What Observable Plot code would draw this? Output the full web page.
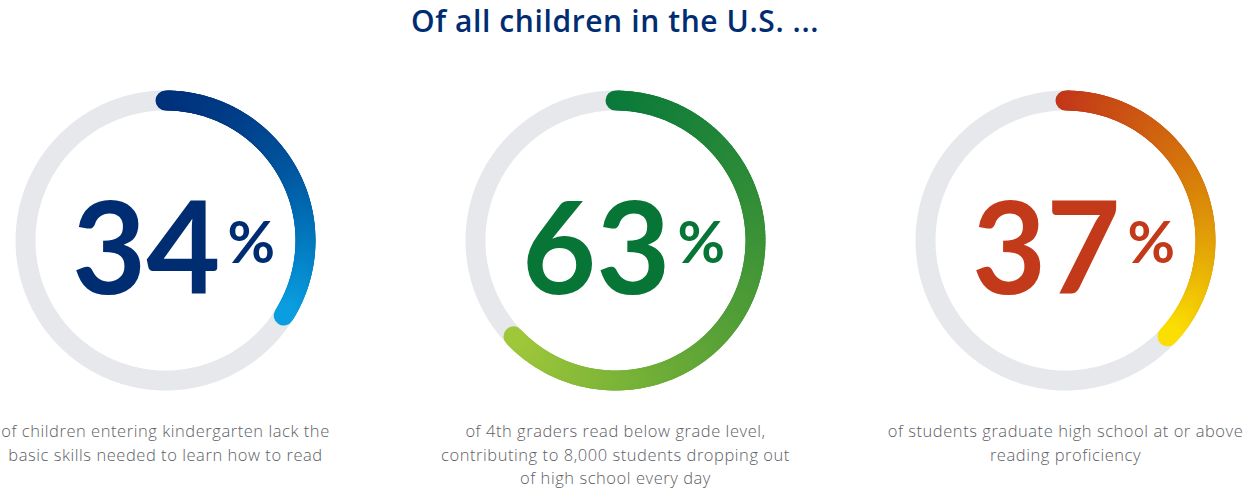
<!DOCTYPE html>
<html>
<head>
<meta charset="utf-8">
<script src="https://cdn.jsdelivr.net/npm/d3@7"></script>
<script src="https://cdn.jsdelivr.net/npm/@observablehq/plot@0.6"></script>
<style>
  html, body { margin: 0; padding: 0; background: #fff; }
  #title { box-sizing: border-box; height: 48px; line-height: 41px; font-family: "Open Sans", sans-serif; font-weight: 600; font-size: 30px; letter-spacing: 0.6px; color: #002d72; text-align: center; padding-right: 14px; white-space: nowrap; overflow: visible; }
  #chart svg { display: block; }
</style>
</head>
<body>
<div id="title"></div>
<div id="chart"></div>
<script>
const title = "Of all children in the U.S. ...";
const categories = ["kindergarten", "fourthGrade", "highSchool"];
const values = [34, 63, 37];
const captions = [
  "of children entering kindergarten lack the\nbasic skills needed to learn how to read",
  "of 4th graders read below grade level,\ncontributing to 8,000 students dropping out\nof high school every day",
  "of students graduate high school at or above\nreading proficiency"
];
const numberColors = ["#002d72", "#077536", "#c23a19"];
const arcColorStops = [
  ["#00307a", "#003f8a", "#0068b0", "#0a9fe0"],
  ["#08793a", "#2f8c37", "#62a636", "#9fc73a"],
  ["#c2361a", "#d0620f", "#dd9608", "#fbdf02"]
];
const trackColor = "#e6e8ec";

document.getElementById("title").textContent = title;

const R = 140, W = 20;

// full track rings
const track = [];
categories.forEach(cat => {
  for (let k = 0; k < 360; k += 2) {
    const a = k * Math.PI / 180;
    track.push({cat, x: R * Math.sin(a), y: -R * Math.cos(a)});
  }
});

// progress arcs as short gradient segments
const segs = [];
categories.forEach((cat, i) => {
  const interp = d3.interpolateRgbBasis(arcColorStops[i]);
  const total = values[i] / 100 * 2 * Math.PI;
  const N = 160;
  for (let s = 0; s < N; s++) {
    const a1 = total * s / N, a2 = total * (s + 1) / N;
    segs.push({
      cat,
      x1: R * Math.sin(a1), y1: -R * Math.cos(a1),
      x2: R * Math.sin(a2), y2: -R * Math.cos(a2),
      color: interp((s + 0.5) / N)
    });
  }
});

const rows = categories.map((cat, i) => ({cat, value: values[i], caption: captions[i], color: numberColors[i]}));

const capSize = 16.5;
const chart = Plot.plot({
  width: 1244,
  height: 440,
  marginLeft: 0,
  marginRight: 14,
  marginTop: 0,
  marginBottom: 0,
  fx: {domain: categories, paddingInner: 0.2667, paddingOuter: 0, axis: null},
  x: {domain: [-165, 165], axis: null},
  y: {domain: [-192, 248], range: [0, 440], axis: null},
  marks: [
    Plot.line(track, {fx: "cat", x: "x", y: "y", z: "cat", curve: "linear-closed", stroke: trackColor, strokeWidth: W}),
    Plot.link(segs, {fx: "cat", x1: "x1", y1: "y1", x2: "x2", y2: "y2", stroke: "color", strokeWidth: W, strokeLinecap: "round"}),
    Plot.text(rows, {fx: "cat", x: () => 55, y: () => 53, text: d => String(d.value), fill: "color",
      fontSize: 128, fontWeight: 700, fontFamily: "Lato, sans-serif", textAnchor: "end", lineAnchor: "bottom"}),
    Plot.text(rows, {fx: "cat", x: () => 62, y: () => 22, text: () => "%", fill: "color",
      fontSize: 58, fontWeight: 700, fontFamily: "Lato, sans-serif", textAnchor: "start", lineAnchor: "bottom"}),
    Plot.text(rows, {fx: "cat", x: () => 0, y: () => 192 - 0.71 * capSize, text: "caption", fill: "#5d6065",
      fontSize: capSize, fontWeight: 300, fontFamily: "'Open Sans', sans-serif", textAnchor: "middle", lineAnchor: "top", lineHeight: 23.3 / capSize})
  ]
});
d3.select(chart).selectAll(`g[font-size="${capSize}"]`).attr("letter-spacing", "0.55");
document.getElementById("chart").appendChild(chart);
</script>
</body>
</html>
